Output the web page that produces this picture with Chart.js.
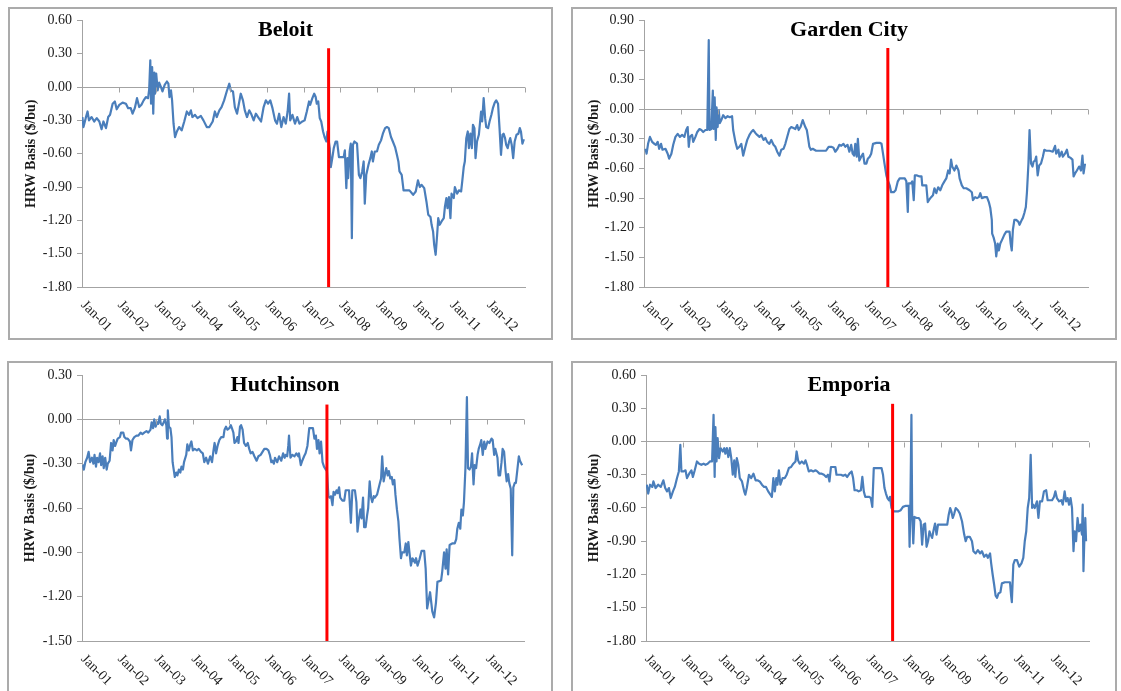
<!DOCTYPE html>
<html>
<head>
<meta charset="utf-8">
<script src="https://cdn.jsdelivr.net/npm/chart.js@4"></script>
<style>
  html, body { margin: 0; padding: 0; background: #fff; }
  body { width: 1121px; height: 691px; position: relative; overflow: hidden; }
  .box { position: absolute; border: 2px solid #ababab; box-sizing: border-box; }
  canvas { position: absolute; }
</style>
</head>
<body>
<div class="box" style="left:8px;top:7px;width:545px;height:333px"></div>
<div class="box" style="left:571px;top:7px;width:546px;height:333px"></div>
<div class="box" style="left:7px;top:361px;width:546px;height:340px"></div>
<div class="box" style="left:571px;top:361px;width:546px;height:340px"></div>
<canvas id="beloitChart" width="545" height="333" style="left:8px;top:7px"></canvas>
<canvas id="gardenChart" width="546" height="333" style="left:571px;top:7px"></canvas>
<canvas id="hutchChart" width="546" height="335" style="left:7px;top:361px"></canvas>
<canvas id="emporiaChart" width="546" height="335" style="left:571px;top:361px"></canvas>
<script>
// x axis: one tick per January
const tickYears = [2001, 2002, 2003, 2004, 2005, 2006, 2007, 2008, 2009, 2010, 2011, 2012];
const tickLabels = ['Jan-01', 'Jan-02', 'Jan-03', 'Jan-04', 'Jan-05', 'Jan-06', 'Jan-07', 'Jan-08', 'Jan-09', 'Jan-10', 'Jan-11', 'Jan-12'];

// Beloit basis ($/bu), dates as decimal years
const beloitYears = [
  2001.01,2001.04,2001.10,2001.15,2001.19,2001.26,2001.33,2001.40,2001.47,2001.53,2001.58,2001.65,2001.71,2001.76,2001.83,2001.89,2001.94,
  2002.01,2002.10,2002.19,2002.25,2002.32,2002.37,2002.43,2002.49,2002.55,2002.61,2002.67,2002.73,2002.79,2002.82,2002.85,2002.87,2002.90,2002.93,2002.96,2002.98,
  2003.01,2003.05,2003.09,2003.14,2003.18,2003.24,2003.30,2003.34,2003.37,2003.41,2003.44,2003.48,2003.52,2003.57,2003.63,2003.70,2003.77,2003.84,2003.90,2003.95,2003.99,
  2004.06,2004.13,2004.22,2004.29,2004.38,2004.45,2004.54,2004.60,2004.65,2004.72,2004.78,2004.85,2004.92,2004.99,
  2005.03,2005.09,2005.14,2005.20,2005.25,2005.30,2005.36,2005.41,2005.47,2005.53,2005.58,2005.65,2005.71,2005.77,2005.85,2005.92,2005.98,
  2006.04,2006.10,2006.16,2006.23,2006.28,2006.34,2006.40,2006.46,2006.52,2006.57,2006.61,2006.64,2006.70,2006.77,2006.83,2006.89,2006.97,
  2007.03,2007.09,2007.15,2007.18,2007.24,2007.29,2007.33,2007.36,2007.40,2007.44,2007.48,2007.53,2007.57,2007.62,2007.65,2007.71,2007.74,2007.78,2007.82,2007.87,2007.91,2007.96,
  2008.02,2008.09,2008.12,2008.16,2008.19,2008.21,2008.25,2008.28,2008.31,2008.34,2008.38,2008.45,2008.50,2008.54,2008.59,2008.63,2008.66,2008.70,2008.76,2008.81,2008.85,2008.88,2008.93,2008.99,
  2009.04,2009.10,2009.15,2009.21,2009.26,2009.31,2009.37,2009.42,2009.48,2009.53,2009.57,2009.60,2009.66,2009.71,2009.78,2009.87,2009.97,
  2010.04,2010.10,2010.15,2010.20,2010.27,2010.33,2010.38,2010.44,2010.47,2010.51,2010.54,2010.58,2010.62,2010.65,2010.69,2010.74,2010.80,2010.83,2010.87,2010.90,2010.94,2010.98,
  2011.01,2011.07,2011.10,2011.16,2011.21,2011.27,2011.30,2011.34,2011.37,2011.41,2011.45,2011.48,2011.52,2011.56,2011.59,2011.63,2011.66,2011.70,2011.75,2011.81,2011.84,2011.88,2011.92,2011.95,
  2012.00,2012.04,2012.09,2012.13,2012.18,2012.22,2012.27,2012.31,2012.35,2012.39,2012.42,2012.46,2012.49,2012.53,2012.57,2012.60,2012.64,2012.68,2012.72,2012.77,2012.82,2012.86,2012.89,2012.93,2012.97
];
const beloitBasis = [
  -0.27,-0.36,-0.28,-0.22,-0.30,-0.27,-0.31,-0.28,-0.31,-0.38,-0.31,-0.37,-0.27,-0.25,-0.15,-0.13,-0.20,
  -0.16,-0.14,-0.15,-0.19,-0.19,-0.24,-0.19,-0.10,-0.18,-0.16,-0.12,-0.09,-0.10,-0.02,0.24,-0.15,0.18,-0.24,0.13,-0.06,
  0.12,-0.03,0.04,0.00,-0.04,0.02,0.05,0.03,-0.09,-0.03,-0.12,-0.33,-0.45,-0.40,-0.36,-0.39,-0.31,-0.22,-0.25,-0.21,-0.27,
  -0.25,-0.28,-0.26,-0.30,-0.36,-0.36,-0.31,-0.22,-0.27,-0.21,-0.18,-0.12,-0.04,0.03,
  -0.03,-0.04,-0.18,-0.24,-0.15,-0.06,-0.12,-0.21,-0.27,-0.21,-0.24,-0.30,-0.24,-0.27,-0.31,-0.18,-0.12,
  -0.15,-0.12,-0.19,-0.30,-0.33,-0.24,-0.36,-0.27,-0.33,-0.22,-0.06,-0.30,-0.25,-0.33,-0.27,-0.33,-0.31,
  -0.30,-0.22,-0.13,-0.16,-0.10,-0.06,-0.09,-0.15,-0.13,-0.28,-0.31,-0.40,-0.45,-0.49,-0.40,-0.55,-0.72,-0.64,-0.55,-0.49,-0.49,-0.63,
  -0.63,-0.63,-0.57,-0.91,-0.64,-0.82,-0.58,-0.51,-1.36,-0.52,-0.49,-0.51,-0.79,-0.82,-0.76,-0.67,-1.05,-0.79,-0.70,-0.64,-0.58,-0.67,-0.58,-0.58,
  -0.52,-0.48,-0.42,-0.37,-0.36,-0.37,-0.45,-0.49,-0.54,-0.61,-0.67,-0.76,-0.79,-0.93,-0.93,-0.93,-0.97,
  -0.94,-0.84,-0.90,-0.88,-0.91,-1.03,-1.15,-1.17,-1.24,-1.30,-1.42,-1.51,-1.33,-1.18,-1.24,-1.21,-1.18,-1.08,-1.00,-1.09,-0.99,-1.18,
  -0.96,-1.00,-0.90,-0.96,-0.93,-0.94,-0.85,-0.72,-0.67,-0.46,-0.40,-0.55,-0.42,-0.55,-0.34,-0.37,-0.64,-0.49,-0.43,-0.22,-0.31,-0.10,-0.28,-0.36,
  -0.37,-0.31,-0.25,-0.19,-0.14,-0.12,-0.15,-0.37,-0.61,-0.43,-0.42,-0.46,-0.52,-0.55,-0.49,-0.46,-0.52,-0.64,-0.49,-0.43,-0.42,-0.37,-0.40,-0.51,-0.47
];

// Garden City
const gardenYears = [
  2001.04,2001.07,2001.11,2001.16,2001.22,2001.28,2001.32,2001.37,2001.41,2001.46,2001.50,2001.58,2001.64,2001.68,2001.74,2001.79,2001.85,2001.91,2001.97,
  2002.03,2002.09,2002.14,2002.18,2002.21,2002.24,2002.30,2002.33,2002.39,2002.44,2002.50,2002.55,2002.60,2002.66,2002.71,2002.75,2002.77,2002.82,2002.86,2002.88,2002.91,2002.94,2002.96,2002.99,
  2003.02,2003.05,2003.09,2003.14,2003.20,2003.26,2003.32,2003.38,2003.41,2003.47,2003.52,2003.58,2003.63,2003.68,2003.74,2003.79,2003.85,2003.90,2003.95,
  2004.01,2004.06,2004.12,2004.17,2004.23,2004.28,2004.33,2004.39,2004.44,2004.50,2004.55,2004.60,2004.66,2004.71,2004.77,2004.82,2004.87,2004.93,2004.98,
  2005.04,2005.09,2005.14,2005.18,2005.23,2005.29,2005.32,2005.36,2005.40,2005.43,2005.47,2005.51,2005.56,2005.65,2005.74,2005.83,2005.92,2005.99,
  2006.06,2006.12,2006.17,2006.23,2006.28,2006.33,2006.39,2006.44,2006.50,2006.55,2006.60,2006.64,2006.68,2006.71,2006.75,2006.78,2006.82,2006.87,2006.92,2006.96,
  2007.01,2007.05,2007.10,2007.14,2007.19,2007.28,2007.37,2007.42,2007.46,2007.50,2007.55,2007.59,2007.64,2007.68,2007.75,2007.80,2007.86,2007.91,2007.98,
  2008.05,2008.09,2008.13,2008.15,2008.22,2008.25,2008.29,2008.32,2008.38,2008.45,2008.50,2008.52,2008.58,2008.63,2008.67,2008.70,2008.76,2008.81,2008.85,2008.90,2008.95,
  2009.01,2009.06,2009.12,2009.17,2009.22,2009.26,2009.30,2009.33,2009.39,2009.44,2009.50,2009.53,2009.59,2009.64,2009.71,2009.80,2009.86,2009.89,2009.95,
  2010.00,2010.05,2010.09,2010.13,2010.20,2010.27,2010.32,2010.36,2010.40,2010.41,2010.45,2010.49,2010.52,2010.56,2010.59,2010.63,2010.68,2010.74,2010.79,2010.85,2010.88,2010.91,2010.94,2010.97,
  2011.01,2011.06,2011.12,2011.15,2011.21,2011.24,2011.28,2011.32,2011.35,2011.39,2011.42,2011.46,2011.50,2011.53,2011.57,2011.60,2011.64,2011.68,2011.73,2011.78,2011.82,2011.87,2011.96,
  2012.05,2012.11,2012.14,2012.20,2012.23,2012.29,2012.32,2012.38,2012.43,2012.47,2012.52,2012.58,2012.61,2012.65,2012.70,2012.76,2012.81,2012.85,2012.88,2012.92
];
const gardenBasis = [
  -0.40,-0.45,-0.35,-0.28,-0.33,-0.35,-0.36,-0.33,-0.40,-0.35,-0.41,-0.40,-0.45,-0.50,-0.45,-0.36,-0.28,-0.25,-0.28,
  -0.26,-0.28,-0.21,-0.18,-0.38,-0.28,-0.26,-0.33,-0.28,-0.23,-0.20,-0.21,-0.23,-0.21,-0.21,0.70,-0.21,-0.20,0.19,-0.20,0.12,-0.31,0.02,-0.18,
  -0.01,-0.14,-0.11,-0.06,-0.09,-0.07,-0.08,-0.07,-0.21,-0.33,-0.40,-0.38,-0.35,-0.47,-0.38,-0.31,-0.26,-0.23,-0.21,
  -0.24,-0.26,-0.28,-0.26,-0.31,-0.29,-0.33,-0.35,-0.31,-0.36,-0.38,-0.43,-0.47,-0.41,-0.40,-0.35,-0.28,-0.20,-0.18,
  -0.19,-0.20,-0.16,-0.21,-0.18,-0.11,-0.14,-0.18,-0.21,-0.28,-0.38,-0.41,-0.40,-0.42,-0.42,-0.42,-0.42,-0.38,
  -0.38,-0.39,-0.43,-0.40,-0.36,-0.37,-0.35,-0.38,-0.36,-0.43,-0.36,-0.45,-0.47,-0.35,-0.48,-0.30,-0.52,-0.48,-0.45,-0.55,
  -0.55,-0.50,-0.48,-0.45,-0.35,-0.34,-0.34,-0.35,-0.45,-0.55,-0.67,-0.72,-0.77,-0.84,-0.84,-0.82,-0.73,-0.70,-0.70,
  -0.70,-0.73,-1.04,-0.75,-0.75,-0.73,-0.92,-0.67,-0.67,-0.68,-0.68,-0.77,-0.77,-0.77,-0.94,-0.92,-0.89,-0.87,-0.80,-0.85,-0.79,
  -0.82,-0.77,-0.73,-0.70,-0.62,-0.65,-0.51,-0.58,-0.62,-0.57,-0.62,-0.70,-0.77,-0.80,-0.80,-0.82,-0.84,-0.92,-0.89,
  -0.90,-0.89,-0.85,-0.90,-0.89,-0.89,-0.94,-1.00,-1.12,-1.26,-1.30,-1.36,-1.49,-1.36,-1.43,-1.36,-1.32,-1.27,-1.24,-1.24,-1.24,-1.36,-1.43,-1.22,
  -1.12,-1.12,-1.14,-1.17,-1.12,-1.10,-1.05,-0.99,-0.84,-0.55,-0.21,-0.55,-0.58,-0.53,-0.52,-0.48,-0.67,-0.57,-0.55,-0.48,-0.41,-0.42,-0.42,
  -0.43,-0.37,-0.45,-0.41,-0.48,-0.43,-0.48,-0.45,-0.41,-0.48,-0.49,-0.51,-0.68,-0.65,-0.62,-0.58,-0.62,-0.47,-0.65,-0.55
];

// Hutchinson
const hutchYears = [
  2001.03,2001.05,2001.09,2001.14,2001.18,2001.22,2001.27,2001.31,2001.34,2001.38,2001.41,2001.45,2001.49,2001.52,2001.56,2001.59,2001.63,2001.67,2001.70,2001.75,2001.79,2001.83,2001.86,2001.90,2001.94,2001.97,
  2002.03,2002.06,2002.12,2002.15,2002.19,2002.24,2002.30,2002.33,2002.37,2002.42,2002.48,2002.53,2002.59,2002.64,2002.69,2002.75,2002.80,2002.86,2002.89,2002.93,2002.96,
  2003.00,2003.04,2003.07,2003.11,2003.14,2003.18,2003.22,2003.25,2003.29,2003.31,2003.33,2003.36,2003.40,2003.43,2003.46,2003.49,2003.52,2003.56,2003.59,2003.63,2003.67,2003.70,2003.74,2003.77,2003.83,2003.86,2003.90,2003.94,2003.97,
  2004.01,2004.06,2004.12,2004.17,2004.23,2004.28,2004.32,2004.37,2004.42,2004.48,2004.53,2004.57,2004.60,2004.64,2004.68,2004.73,2004.78,2004.84,2004.87,2004.91,2004.95,
  2005.00,2005.04,2005.07,2005.11,2005.14,2005.18,2005.22,2005.25,2005.29,2005.32,2005.36,2005.40,2005.45,2005.50,2005.54,2005.58,2005.63,2005.68,2005.74,2005.79,2005.85,2005.90,2005.95,
  2006.01,2006.06,2006.10,2006.14,2006.17,2006.21,2006.24,2006.30,2006.35,2006.41,2006.46,2006.50,2006.53,2006.57,2006.60,2006.62,2006.66,2006.71,2006.77,2006.82,2006.87,2006.89,2006.94,2006.98,
  2007.03,2007.07,2007.12,2007.17,2007.22,2007.27,2007.31,2007.35,2007.38,2007.42,2007.45,2007.49,2007.53,2007.57,2007.62,2007.65,2007.69,2007.72,2007.76,2007.80,2007.83,2007.87,2007.91,2007.94,2007.98,
  2008.01,2008.07,2008.12,2008.16,2008.21,2008.25,2008.30,2008.34,2008.41,2008.45,2008.48,2008.52,2008.56,2008.59,2008.63,2008.66,2008.70,2008.74,2008.77,2008.81,2008.85,2008.88,2008.92,2008.95,
  2009.01,2009.04,2009.08,2009.12,2009.15,2009.19,2009.22,2009.26,2009.30,2009.33,2009.37,2009.41,2009.44,2009.48,2009.51,2009.55,2009.59,2009.62,2009.66,2009.69,2009.75,2009.79,2009.82,2009.86,2009.89,2009.93,2009.97,
  2010.00,2010.04,2010.07,2010.11,2010.16,2010.22,2010.29,2010.33,2010.37,2010.45,2010.51,2010.56,2010.61,2010.65,2010.75,2010.78,2010.83,2010.87,2010.90,2010.94,2010.98,
  2011.05,2011.12,2011.16,2011.19,2011.23,2011.27,2011.30,2011.34,2011.37,2011.41,2011.45,2011.48,2011.52,2011.56,2011.59,2011.63,2011.66,2011.70,2011.74,2011.77,2011.81,2011.84,2011.88,2011.92,2011.95,
  2012.01,2012.06,2012.12,2012.15,2012.19,2012.22,2012.28,2012.31,2012.35,2012.39,2012.42,2012.46,2012.50,2012.53,2012.57,2012.60,2012.64,2012.68,2012.71,2012.75,2012.78,2012.82,2012.86,2012.89,2012.95
];
const hutchBasis = [
  -0.31,-0.34,-0.29,-0.26,-0.22,-0.29,-0.26,-0.30,-0.24,-0.32,-0.26,-0.29,-0.23,-0.31,-0.25,-0.33,-0.26,-0.34,-0.30,-0.28,-0.16,-0.21,-0.14,-0.18,-0.15,-0.13,
  -0.12,-0.09,-0.09,-0.12,-0.13,-0.13,-0.15,-0.21,-0.14,-0.12,-0.11,-0.11,-0.09,-0.10,-0.09,-0.08,-0.09,-0.07,-0.02,-0.06,0.00,
  -0.05,-0.02,-0.03,0.02,-0.03,-0.04,-0.02,0.00,-0.04,-0.13,0.06,-0.05,-0.06,-0.12,-0.29,-0.34,-0.39,-0.36,-0.38,-0.34,-0.36,-0.32,-0.34,-0.29,-0.24,-0.17,-0.21,-0.17,-0.15,
  -0.21,-0.20,-0.21,-0.20,-0.22,-0.23,-0.29,-0.26,-0.30,-0.25,-0.29,-0.21,-0.16,-0.23,-0.18,-0.14,-0.12,-0.12,-0.07,-0.05,-0.07,
  -0.06,-0.04,-0.06,-0.09,-0.16,-0.15,-0.12,-0.16,-0.05,-0.04,-0.07,-0.16,-0.18,-0.16,-0.20,-0.23,-0.22,-0.25,-0.28,-0.25,-0.24,-0.22,-0.20,
  -0.20,-0.21,-0.24,-0.29,-0.28,-0.30,-0.26,-0.29,-0.25,-0.28,-0.23,-0.26,-0.24,-0.25,-0.18,-0.11,-0.26,-0.24,-0.25,-0.23,-0.25,-0.23,-0.31,-0.28,
  -0.25,-0.23,-0.18,-0.06,-0.06,-0.06,-0.13,-0.11,-0.20,-0.14,-0.23,-0.15,-0.29,-0.32,-0.34,-0.35,-0.52,-0.53,-0.52,-0.58,-0.49,-0.51,-0.48,-0.50,-0.46,
  -0.53,-0.55,-0.55,-0.48,-0.48,-0.48,-0.70,-0.48,-0.48,-0.56,-0.76,-0.67,-0.61,-0.67,-0.53,-0.73,-0.73,-0.65,-0.60,-0.42,-0.53,-0.56,-0.52,-0.53,
  -0.51,-0.48,-0.44,-0.40,-0.25,-0.42,-0.38,-0.33,-0.38,-0.35,-0.40,-0.39,-0.44,-0.41,-0.51,-0.61,-0.69,-0.81,-0.94,-0.90,-0.90,-0.84,-0.92,-0.83,-0.90,-0.99,-0.94,
  -0.95,-0.97,-0.94,-0.99,-0.95,-0.89,-0.89,-1.01,-1.28,-1.17,-1.30,-1.34,-1.24,-1.10,-1.09,-1.03,-0.90,-1.01,-0.88,-1.05,-0.85,
  -0.84,-0.84,-0.81,-0.74,-0.70,-0.74,-0.61,-0.65,-0.56,-0.33,0.15,-0.33,-0.34,-0.32,-0.23,-0.44,-0.31,-0.33,-0.24,-0.20,-0.17,-0.14,-0.24,-0.15,-0.20,
  -0.15,-0.16,-0.13,-0.14,-0.24,-0.20,-0.26,-0.38,-0.38,-0.29,-0.20,-0.22,-0.35,-0.42,-0.37,-0.43,-0.47,-0.92,-0.46,-0.43,-0.43,-0.34,-0.25,-0.28,-0.31
];

// Emporia
const emporiaYears = [
  2001.02,2001.06,2001.11,2001.17,2001.20,2001.26,2001.33,2001.40,2001.47,2001.52,2001.57,2001.62,2001.67,2001.73,2001.78,2001.84,2001.89,2001.93,2001.96,
  2002.02,2002.07,2002.11,2002.17,2002.23,2002.27,2002.32,2002.38,2002.44,2002.50,2002.56,2002.61,2002.67,2002.73,2002.79,2002.83,2002.86,2002.88,2002.91,2002.94,2002.98,
  2003.02,2003.08,2003.12,2003.15,2003.19,2003.23,2003.27,2003.31,2003.35,2003.39,2003.42,2003.46,2003.50,2003.54,2003.60,2003.66,2003.69,2003.73,2003.79,2003.85,2003.91,2003.97,
  2004.02,2004.08,2004.14,2004.20,2004.25,2004.31,2004.37,2004.41,2004.45,2004.49,2004.53,2004.56,2004.60,2004.64,2004.70,2004.76,2004.81,2004.87,2004.93,2004.99,
  2005.05,2005.08,2005.12,2005.16,2005.22,2005.28,2005.32,2005.36,2005.41,2005.47,2005.53,2005.59,2005.64,2005.70,2005.76,2005.82,2005.88,2005.93,2005.97,
  2006.01,2006.07,2006.13,2006.16,2006.22,2006.28,2006.34,2006.40,2006.45,2006.51,2006.57,2006.61,2006.65,2006.71,2006.76,2006.82,2006.86,2006.90,2006.94,
  2007.00,2007.05,2007.09,2007.13,2007.17,2007.21,2007.27,2007.32,2007.38,2007.42,2007.46,2007.50,2007.54,2007.58,2007.61,2007.65,2007.71,2007.76,2007.84,2007.90,2007.96,
  2008.04,2008.12,2008.14,2008.16,2008.19,2008.21,2008.24,2008.27,2008.33,2008.39,2008.44,2008.48,2008.52,2008.56,2008.60,2008.64,2008.68,2008.71,2008.75,2008.79,2008.83,2008.87,2008.91,2008.97,
  2009.02,2009.10,2009.16,2009.20,2009.24,2009.27,2009.31,2009.35,2009.39,2009.45,2009.50,2009.56,2009.62,2009.66,2009.70,2009.77,2009.83,2009.87,2009.93,2009.99,
  2010.05,2010.10,2010.16,2010.22,2010.26,2010.32,2010.35,2010.39,2010.43,2010.47,2010.51,2010.55,2010.60,2010.64,2010.72,2010.80,2010.86,2010.89,2010.91,2010.95,2010.99,
  2011.05,2011.11,2011.17,2011.22,2011.26,2011.30,2011.34,2011.38,2011.42,2011.46,2011.49,2011.53,2011.59,2011.63,2011.67,2011.73,2011.78,2011.84,2011.88,2011.94,
  2012.00,2012.05,2012.09,2012.13,2012.19,2012.25,2012.29,2012.34,2012.38,2012.42,2012.46,2012.50,2012.54,2012.58,2012.61,2012.65,2012.69,2012.73,2012.77,2012.81,2012.83,2012.85,2012.87,2012.90,2012.92
];
const emporiaBasis = [
  -0.39,-0.47,-0.39,-0.41,-0.36,-0.42,-0.39,-0.41,-0.35,-0.42,-0.45,-0.42,-0.51,-0.45,-0.41,-0.33,-0.27,-0.03,-0.27,
  -0.27,-0.26,-0.33,-0.29,-0.26,-0.32,-0.26,-0.18,-0.20,-0.21,-0.20,-0.21,-0.20,-0.18,-0.18,0.24,-0.32,0.13,-0.18,0.03,-0.15,
  -0.06,-0.09,-0.06,-0.11,-0.06,-0.14,-0.06,-0.15,-0.30,-0.17,-0.32,-0.15,-0.21,-0.33,-0.36,-0.45,-0.48,-0.42,-0.30,-0.33,-0.29,-0.35,
  -0.35,-0.36,-0.39,-0.41,-0.41,-0.45,-0.48,-0.50,-0.33,-0.45,-0.33,-0.39,-0.26,-0.39,-0.33,-0.33,-0.30,-0.24,-0.23,-0.20,
  -0.18,-0.09,-0.17,-0.20,-0.18,-0.20,-0.17,-0.21,-0.27,-0.26,-0.27,-0.26,-0.27,-0.29,-0.29,-0.30,-0.32,-0.30,-0.36,
  -0.23,-0.23,-0.23,-0.30,-0.30,-0.30,-0.31,-0.30,-0.32,-0.29,-0.27,-0.33,-0.44,-0.44,-0.45,-0.44,-0.32,-0.45,-0.50,
  -0.50,-0.50,-0.51,-0.59,-0.24,-0.24,-0.24,-0.24,-0.24,-0.30,-0.42,-0.47,-0.51,-0.53,-0.50,-0.60,-0.63,-0.63,-0.63,-0.62,-0.59,
  -0.58,-0.58,-0.95,-0.62,0.24,-0.66,-0.92,-0.68,-0.69,-0.69,-0.72,-0.93,-0.75,-0.74,-0.95,-0.90,-0.81,-0.84,-0.87,-0.80,-0.74,-0.84,-0.75,-0.75,
  -0.75,-0.75,-0.75,-0.66,-0.60,-0.63,-0.69,-0.65,-0.60,-0.62,-0.65,-0.72,-0.84,-0.90,-0.86,-0.86,-0.90,-0.99,-1.01,-0.98,
  -1.01,-0.99,-1.04,-1.02,-1.05,-1.01,-1.10,-1.20,-1.29,-1.39,-1.41,-1.37,-1.36,-1.28,-1.27,-1.27,-1.27,-1.39,-1.45,-1.11,-1.07,
  -1.07,-1.13,-1.10,-1.05,-0.90,-0.81,-0.60,-0.51,-0.12,-0.60,-0.57,-0.60,-0.54,-0.69,-0.54,-0.54,-0.45,-0.44,-0.53,-0.53,
  -0.53,-0.50,-0.45,-0.51,-0.54,-0.53,-0.57,-0.45,-0.54,-0.51,-0.57,-0.51,-0.60,-0.99,-0.81,-0.90,-0.69,-0.81,-0.75,-0.84,-0.57,-1.17,-0.93,-0.69,-0.90
];

// red marker line: date and top value per panel
const markerYears = { beloit: 2007.68, garden: 2007.59, hutch: 2007.65, emporia: 2007.68 };
const markerTops = { beloit: 0.35, garden: 0.62, hutch: 0.10, emporia: 0.34 };

// y axis ranges
const yRanges = { beloit: [-1.8, 0.6], garden: [-1.8, 0.9], hutch: [-1.5, 0.3], emporia: [-1.8, 0.6] };

const serif = '"Liberation Serif", "Times New Roman", serif';
const axisGrey = '#a3a3a3';
const lineBlue = '#4a7ebb';
const textColor = '#1a1a1a';
Chart.defaults.font.family = serif;

// draws the chart title, the little ticks on the zero line and the slanted date labels
const panelDecor = {
  id: 'panelDecor',
  afterDraw(chart, args, opts) {
    const { ctx, chartArea } = chart;
    const x = chart.scales.x, y = chart.scales.y;
    ctx.save();
    ctx.strokeStyle = axisGrey;
    ctx.lineWidth = 1;
    const y0 = Math.round(y.getPixelForValue(0)) + 0.5;
    tickYears.concat([2013]).forEach(yr => {
      if (yr === 2001) return;
      const px = Math.round(x.getPixelForValue(yr)) + 0.5;
      ctx.beginPath();
      ctx.moveTo(px, y0);
      ctx.lineTo(px, y0 + 5);
      ctx.stroke();
    });

    ctx.fillStyle = textColor;
    ctx.font = '14px ' + serif;
    ctx.textAlign = 'left';
    ctx.textBaseline = 'middle';
    tickYears.forEach((yr, i) => {
      const px = x.getPixelForValue(yr);
      ctx.save();
      ctx.translate(px + 1, chartArea.bottom + 16);
      ctx.rotate(Math.PI / 4);
      ctx.fillText(tickLabels[i], 0, 0);
      ctx.restore();
    });

    ctx.font = 'bold 22px ' + serif;
    ctx.textAlign = 'center';
    ctx.fillStyle = '#000';
    ctx.fillText(opts.text, chart.width / 2 + 5, opts.titleY);
    ctx.restore();
  }
};

function makePanel(canvasId, key, title, years, basis, layout) {
  const points = years.map((yr, i) => ({ x: yr, y: basis[i] }));
  const [yMin, yMax] = yRanges[key];
  return new Chart(document.getElementById(canvasId), {
    type: 'line',
    data: {
      datasets: [
        {
          data: [{ x: markerYears[key], y: yMin }, { x: markerYears[key], y: markerTops[key] }],
          borderColor: '#ff0000',
          borderWidth: 3,
          pointRadius: 0
        },
        {
          data: points,
          borderColor: lineBlue,
          borderWidth: 2.2,
          borderJoinStyle: 'round',
          pointRadius: 0,
          tension: 0
        }
      ]
    },
    options: {
      responsive: false,
      animation: false,
      events: [],
      layout: { padding: { top: layout.top, right: layout.right, left: 0, bottom: 0 } },
      plugins: {
        legend: { display: false },
        tooltip: { enabled: false },
        panelDecor: { text: title, titleY: layout.titleY }
      },
      scales: {
        x: {
          type: 'linear',
          min: 2001,
          max: 2013,
          ticks: { display: false, stepSize: 1 },
          grid: { display: false },
          border: { color: axisGrey, width: 1 },
          afterFit: s => { s.height = layout.xAxisH; }
        },
        y: {
          min: yMin,
          max: yMax,
          ticks: {
            stepSize: 0.3,
            autoSkip: false,
            padding: 5,
            color: textColor,
            font: { size: 14, family: serif },
            callback: v => (Math.abs(v) < 1e-9 ? 0 : v).toFixed(2)
          },
          grid: {
            color: c => (Math.abs(c.tick.value) < 1e-9 ? axisGrey : 'rgba(0,0,0,0)'),
            tickColor: axisGrey,
            tickLength: 5,
            lineWidth: 1
          },
          border: { color: axisGrey, width: 1 },
          title: {
            display: true,
            text: 'HRW Basis ($/bu)',
            color: textColor,
            font: { size: 14, weight: 'bold', family: serif },
            padding: { top: 15, bottom: 0 }
          },
          afterFit: s => { s.width = layout.left; }
        }
      }
    },
    plugins: [panelDecor]
  });
}

makePanel('beloitChart', 'beloit', 'Beloit', beloitYears, beloitBasis,
  { left: 74, right: 28, top: 13, xAxisH: 53, titleY: 23 });
makePanel('gardenChart', 'garden', 'Garden City', gardenYears, gardenBasis,
  { left: 73, right: 29, top: 13, xAxisH: 53, titleY: 23 });
makePanel('hutchChart', 'hutch', 'Hutchinson', hutchYears, hutchBasis,
  { left: 75, right: 29, top: 14, xAxisH: 55, titleY: 24 });
makePanel('emporiaChart', 'emporia', 'Emporia', emporiaYears, emporiaBasis,
  { left: 75, right: 28, top: 14, xAxisH: 55, titleY: 24 });
</script>
</body>
</html>
